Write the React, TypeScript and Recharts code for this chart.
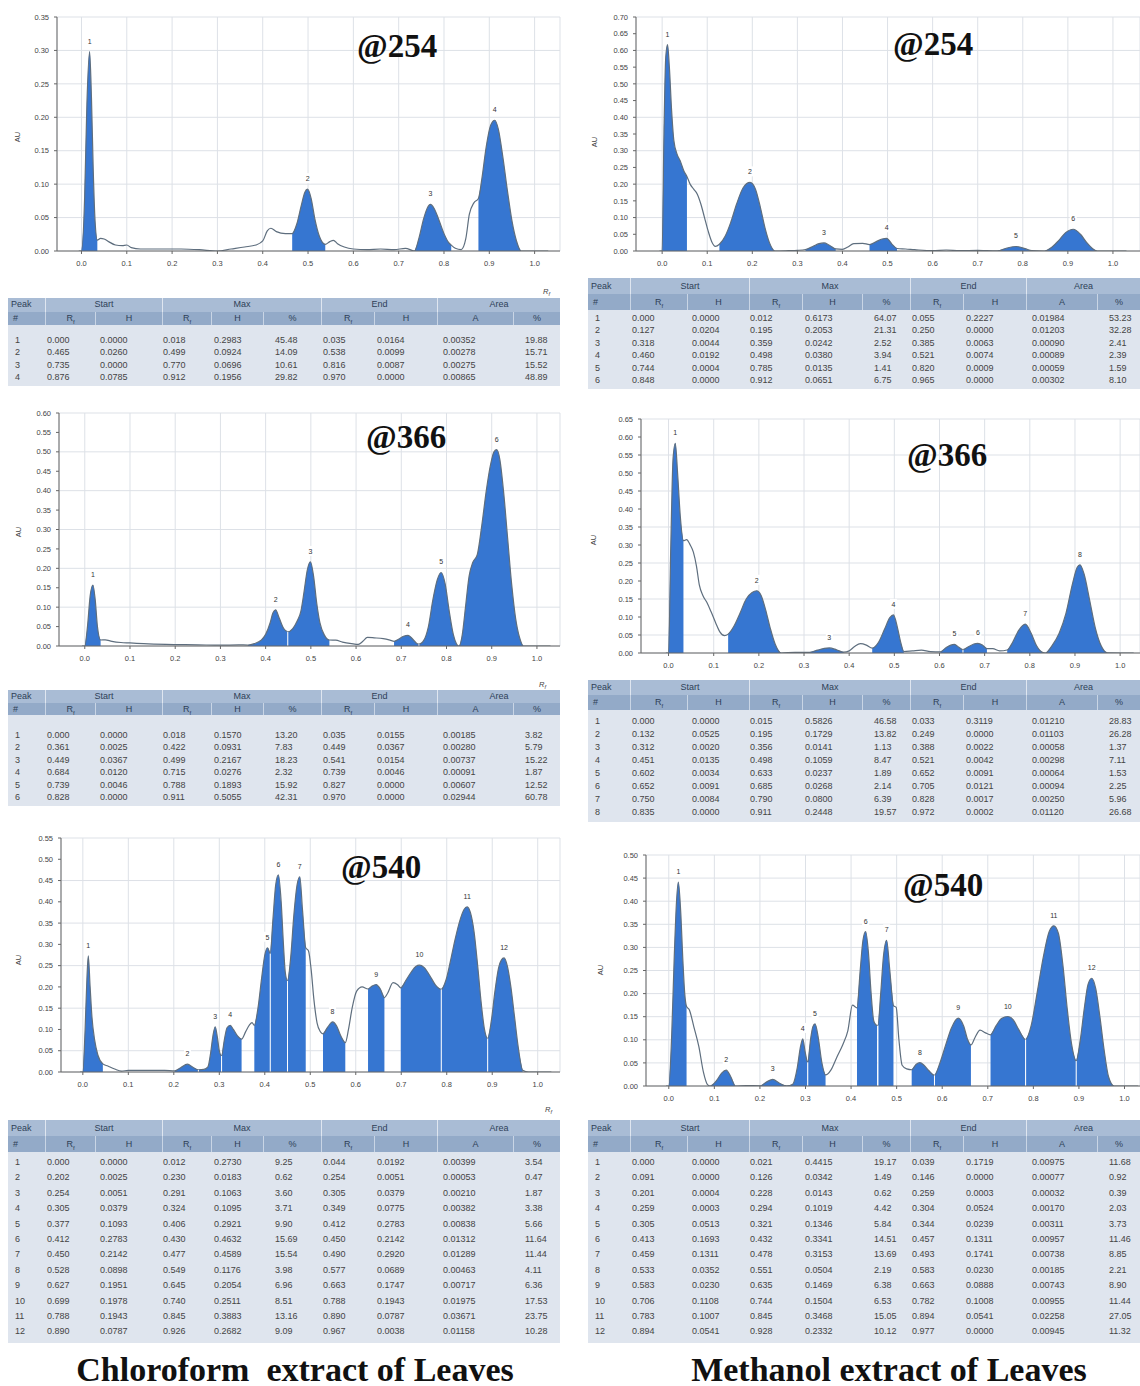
import React from "react";
import {
  ComposedChart,
  Line,
  Area,
  Scatter,
  XAxis,
  YAxis,
  CartesianGrid,
  ReferenceLine,
} from "recharts";

// Rf ticks shared by all densitograms
const rfTicks = [0, 0.1, 0.2, 0.3, 0.4, 0.5, 0.6, 0.7, 0.8, 0.9, 1.0];

// AU ticks of each panel
const auTicksC254 = [0, 0.05, 0.1, 0.15, 0.2, 0.25, 0.3, 0.35];
const auTicksC366 = [0, 0.05, 0.1, 0.15, 0.2, 0.25, 0.3, 0.35, 0.4, 0.45, 0.5, 0.55, 0.6];
const auTicksC540 = [0, 0.05, 0.1, 0.15, 0.2, 0.25, 0.3, 0.35, 0.4, 0.45, 0.5, 0.55];
const auTicksM254 = [0, 0.05, 0.1, 0.15, 0.2, 0.25, 0.3, 0.35, 0.4, 0.45, 0.5, 0.55, 0.6, 0.65, 0.7];
const auTicksM366 = [0, 0.05, 0.1, 0.15, 0.2, 0.25, 0.3, 0.35, 0.4, 0.45, 0.5, 0.55, 0.6, 0.65];
const auTicksM540 = [0, 0.05, 0.1, 0.15, 0.2, 0.25, 0.3, 0.35, 0.4, 0.45, 0.5];

// peak tables: #, start Rf, start H, max Rf, max H, max %, end Rf, end H, area A, area %
const peaksC254 = [
  ["1", "0.000", "0.0000", "0.018", "0.2983", "45.48", "0.035", "0.0164", "0.00352", "19.88"],
  ["2", "0.465", "0.0260", "0.499", "0.0924", "14.09", "0.538", "0.0099", "0.00278", "15.71"],
  ["3", "0.735", "0.0000", "0.770", "0.0696", "10.61", "0.816", "0.0087", "0.00275", "15.52"],
  ["4", "0.876", "0.0785", "0.912", "0.1956", "29.82", "0.970", "0.0000", "0.00865", "48.89"],
];
const peaksC366 = [
  ["1", "0.000", "0.0000", "0.018", "0.1570", "13.20", "0.035", "0.0155", "0.00185", "3.82"],
  ["2", "0.361", "0.0025", "0.422", "0.0931", "7.83", "0.449", "0.0367", "0.00280", "5.79"],
  ["3", "0.449", "0.0367", "0.499", "0.2167", "18.23", "0.541", "0.0154", "0.00737", "15.22"],
  ["4", "0.684", "0.0120", "0.715", "0.0276", "2.32", "0.739", "0.0046", "0.00091", "1.87"],
  ["5", "0.739", "0.0046", "0.788", "0.1893", "15.92", "0.827", "0.0000", "0.00607", "12.52"],
  ["6", "0.828", "0.0000", "0.911", "0.5055", "42.31", "0.970", "0.0000", "0.02944", "60.78"],
];
const peaksC540 = [
  ["1", "0.000", "0.0000", "0.012", "0.2730", "9.25", "0.044", "0.0192", "0.00399", "3.54"],
  ["2", "0.202", "0.0025", "0.230", "0.0183", "0.62", "0.254", "0.0051", "0.00053", "0.47"],
  ["3", "0.254", "0.0051", "0.291", "0.1063", "3.60", "0.305", "0.0379", "0.00210", "1.87"],
  ["4", "0.305", "0.0379", "0.324", "0.1095", "3.71", "0.349", "0.0775", "0.00382", "3.38"],
  ["5", "0.377", "0.1093", "0.406", "0.2921", "9.90", "0.412", "0.2783", "0.00838", "5.66"],
  ["6", "0.412", "0.2783", "0.430", "0.4632", "15.69", "0.450", "0.2142", "0.01312", "11.64"],
  ["7", "0.450", "0.2142", "0.477", "0.4589", "15.54", "0.490", "0.2920", "0.01289", "11.44"],
  ["8", "0.528", "0.0898", "0.549", "0.1176", "3.98", "0.577", "0.0689", "0.00463", "4.11"],
  ["9", "0.627", "0.1951", "0.645", "0.2054", "6.96", "0.663", "0.1747", "0.00717", "6.36"],
  ["10", "0.699", "0.1978", "0.740", "0.2511", "8.51", "0.788", "0.1943", "0.01975", "17.53"],
  ["11", "0.788", "0.1943", "0.845", "0.3883", "13.16", "0.890", "0.0787", "0.03671", "23.75"],
  ["12", "0.890", "0.0787", "0.926", "0.2682", "9.09", "0.967", "0.0038", "0.01158", "10.28"],
];
const peaksM254 = [
  ["1", "0.000", "0.0000", "0.012", "0.6173", "64.07", "0.055", "0.2227", "0.01984", "53.23"],
  ["2", "0.127", "0.0204", "0.195", "0.2053", "21.31", "0.250", "0.0000", "0.01203", "32.28"],
  ["3", "0.318", "0.0044", "0.359", "0.0242", "2.52", "0.385", "0.0063", "0.00090", "2.41"],
  ["4", "0.460", "0.0192", "0.498", "0.0380", "3.94", "0.521", "0.0074", "0.00089", "2.39"],
  ["5", "0.744", "0.0004", "0.785", "0.0135", "1.41", "0.820", "0.0009", "0.00059", "1.59"],
  ["6", "0.848", "0.0000", "0.912", "0.0651", "6.75", "0.965", "0.0000", "0.00302", "8.10"],
];
const peaksM366 = [
  ["1", "0.000", "0.0000", "0.015", "0.5826", "46.58", "0.033", "0.3119", "0.01210", "28.83"],
  ["2", "0.132", "0.0525", "0.195", "0.1729", "13.82", "0.249", "0.0000", "0.01103", "26.28"],
  ["3", "0.312", "0.0020", "0.356", "0.0141", "1.13", "0.388", "0.0022", "0.00058", "1.37"],
  ["4", "0.451", "0.0135", "0.498", "0.1059", "8.47", "0.521", "0.0042", "0.00298", "7.11"],
  ["5", "0.602", "0.0034", "0.633", "0.0237", "1.89", "0.652", "0.0091", "0.00064", "1.53"],
  ["6", "0.652", "0.0091", "0.685", "0.0268", "2.14", "0.705", "0.0121", "0.00094", "2.25"],
  ["7", "0.750", "0.0084", "0.790", "0.0800", "6.39", "0.828", "0.0017", "0.00250", "5.96"],
  ["8", "0.835", "0.0000", "0.911", "0.2448", "19.57", "0.972", "0.0002", "0.01120", "26.68"],
];
const peaksM540 = [
  ["1", "0.000", "0.0000", "0.021", "0.4415", "19.17", "0.039", "0.1719", "0.00975", "11.68"],
  ["2", "0.091", "0.0000", "0.126", "0.0342", "1.49", "0.146", "0.0000", "0.00077", "0.92"],
  ["3", "0.201", "0.0004", "0.228", "0.0143", "0.62", "0.259", "0.0003", "0.00032", "0.39"],
  ["4", "0.259", "0.0003", "0.294", "0.1019", "4.42", "0.304", "0.0524", "0.00170", "2.03"],
  ["5", "0.305", "0.0513", "0.321", "0.1346", "5.84", "0.344", "0.0239", "0.00311", "3.73"],
  ["6", "0.413", "0.1693", "0.432", "0.3341", "14.51", "0.457", "0.1311", "0.00957", "11.46"],
  ["7", "0.459", "0.1311", "0.478", "0.3153", "13.69", "0.493", "0.1741", "0.00738", "8.85"],
  ["8", "0.533", "0.0352", "0.551", "0.0504", "2.19", "0.583", "0.0230", "0.00185", "2.21"],
  ["9", "0.583", "0.0230", "0.635", "0.1469", "6.38", "0.663", "0.0888", "0.00743", "8.90"],
  ["10", "0.706", "0.1108", "0.744", "0.1504", "6.53", "0.782", "0.1008", "0.00955", "11.44"],
  ["11", "0.783", "0.1007", "0.845", "0.3468", "15.05", "0.894", "0.0541", "0.02258", "27.05"],
  ["12", "0.894", "0.0541", "0.928", "0.2332", "10.12", "0.977", "0.0000", "0.00945", "11.32"],
];

// densitogram traces: [Rf, AU]
const curveC254 = [
  [-0.006, 0], [0.0, 0.0], [0.007, 0.08], [0.012, 0.22], [0.018, 0.2983], [0.022, 0.23], [0.026, 0.12],
  [0.03, 0.045], [0.035, 0.0164], [0.042, 0.019], [0.05, 0.018], [0.06, 0.014], [0.075, 0.009], [0.09, 0.008],
  [0.1, 0.009], [0.11, 0.005], [0.13, 0.003], [0.18, 0.003], [0.22, 0.003], [0.26, 0.002], [0.3, 0.0],
  [0.33, 0.003], [0.36, 0.006], [0.385, 0.009], [0.4, 0.015], [0.41, 0.03], [0.418, 0.034], [0.43, 0.029],
  [0.45, 0.026], [0.465, 0.026], [0.475, 0.04], [0.485, 0.068], [0.493, 0.088], [0.499, 0.0924], [0.507, 0.078],
  [0.515, 0.048], [0.525, 0.022], [0.538, 0.0099], [0.548, 0.014], [0.556, 0.016], [0.565, 0.011], [0.58, 0.006],
  [0.6, 0.003], [0.63, 0.002], [0.66, 0.003], [0.69, 0.002], [0.715, 0.004], [0.735, 0.0], [0.745, 0.02],
  [0.755, 0.048], [0.763, 0.064], [0.77, 0.0696], [0.778, 0.064], [0.788, 0.048], [0.8, 0.026], [0.81, 0.013],
  [0.816, 0.0087], [0.825, 0.004], [0.838, 0.002], [0.848, 0.018], [0.856, 0.055], [0.866, 0.072],
  [0.876, 0.0785], [0.884, 0.11], [0.893, 0.155], [0.903, 0.188], [0.912, 0.1956], [0.92, 0.182], [0.93, 0.14],
  [0.94, 0.09], [0.95, 0.045], [0.96, 0.015], [0.97, 0.0], [1.0, 0.0], [1.03, 0.0],
];
const curveC366 = [
  [-0.006, 0], [0.0, 0.0], [0.006, 0.05], [0.012, 0.13], [0.018, 0.157], [0.023, 0.12], [0.028, 0.05],
  [0.035, 0.0155], [0.045, 0.016], [0.06, 0.012], [0.08, 0.009], [0.1, 0.008], [0.13, 0.006], [0.18, 0.004],
  [0.25, 0.003], [0.3, 0.002], [0.34, 0.003], [0.361, 0.0025], [0.375, 0.006], [0.39, 0.015], [0.4, 0.03],
  [0.41, 0.06], [0.416, 0.085], [0.422, 0.0931], [0.43, 0.072], [0.44, 0.045], [0.449, 0.0367], [0.46, 0.045],
  [0.47, 0.065], [0.478, 0.09], [0.485, 0.14], [0.492, 0.195], [0.499, 0.2167], [0.506, 0.18], [0.513, 0.11],
  [0.52, 0.06], [0.53, 0.028], [0.541, 0.0154], [0.555, 0.015], [0.57, 0.01], [0.59, 0.006], [0.605, 0.004],
  [0.615, 0.012], [0.625, 0.022], [0.64, 0.021], [0.66, 0.019], [0.675, 0.015], [0.684, 0.012], [0.695, 0.018],
  [0.705, 0.025], [0.715, 0.0276], [0.725, 0.018], [0.733, 0.008], [0.739, 0.0046], [0.75, 0.015], [0.76, 0.05],
  [0.77, 0.12], [0.78, 0.172], [0.788, 0.1893], [0.797, 0.16], [0.806, 0.09], [0.815, 0.03], [0.822, 0.006],
  [0.827, 0.0], [0.828, 0.0], [0.835, 0.03], [0.842, 0.1], [0.85, 0.18], [0.858, 0.215], [0.868, 0.235],
  [0.878, 0.31], [0.888, 0.4], [0.898, 0.47], [0.905, 0.5], [0.911, 0.5055], [0.918, 0.48], [0.926, 0.4],
  [0.935, 0.28], [0.944, 0.16], [0.953, 0.07], [0.962, 0.02], [0.97, 0.0], [1.0, 0.0], [1.03, 0.0],
];
const curveC540 = [
  [-0.006, 0], [0.0, 0.0], [0.005, 0.1], [0.009, 0.22], [0.012, 0.273], [0.016, 0.2], [0.02, 0.13],
  [0.026, 0.075], [0.033, 0.04], [0.044, 0.0192], [0.055, 0.014], [0.07, 0.007], [0.085, 0.002], [0.1, 0.004],
  [0.12, 0.004], [0.15, 0.004], [0.18, 0.004], [0.202, 0.0025], [0.215, 0.01], [0.23, 0.0183], [0.242, 0.011],
  [0.254, 0.0051], [0.266, 0.006], [0.275, 0.012], [0.281, 0.045], [0.286, 0.085], [0.291, 0.1063], [0.296, 0.08],
  [0.3, 0.05], [0.305, 0.0379], [0.311, 0.075], [0.317, 0.104], [0.324, 0.1095], [0.331, 0.1], [0.34, 0.085],
  [0.349, 0.0775], [0.358, 0.095], [0.366, 0.11], [0.372, 0.116], [0.377, 0.1093], [0.385, 0.15], [0.393, 0.22],
  [0.4, 0.275], [0.406, 0.2921], [0.412, 0.2783], [0.418, 0.36], [0.424, 0.44], [0.43, 0.4632], [0.436, 0.4],
  [0.441, 0.3], [0.445, 0.235], [0.45, 0.2142], [0.457, 0.27], [0.464, 0.37], [0.471, 0.44], [0.477, 0.4589],
  [0.483, 0.38], [0.49, 0.292], [0.496, 0.285], [0.502, 0.24], [0.508, 0.17], [0.515, 0.115], [0.522, 0.095],
  [0.528, 0.0898], [0.538, 0.105], [0.549, 0.1176], [0.558, 0.108], [0.567, 0.085], [0.577, 0.0689],
  [0.584, 0.1], [0.592, 0.15], [0.602, 0.19], [0.614, 0.2], [0.627, 0.1951], [0.636, 0.202], [0.645, 0.2054],
  [0.654, 0.195], [0.663, 0.1747], [0.67, 0.185], [0.682, 0.21], [0.692, 0.205], [0.699, 0.1978], [0.71, 0.215],
  [0.722, 0.235], [0.732, 0.248], [0.74, 0.2511], [0.75, 0.246], [0.762, 0.228], [0.775, 0.205], [0.788, 0.1943],
  [0.798, 0.215], [0.808, 0.26], [0.818, 0.31], [0.83, 0.36], [0.838, 0.382], [0.845, 0.3883], [0.852, 0.375],
  [0.86, 0.33], [0.868, 0.25], [0.876, 0.16], [0.883, 0.1], [0.89, 0.0787], [0.898, 0.12], [0.906, 0.19],
  [0.914, 0.245], [0.92, 0.263], [0.926, 0.2682], [0.933, 0.25], [0.941, 0.2], [0.949, 0.13], [0.957, 0.06],
  [0.967, 0.0038], [0.98, 0.0], [1.03, 0.0],
];
const curveM254 = [
  [-0.006, 0], [0.0, 0.0], [0.004, 0.35], [0.008, 0.58], [0.012, 0.6173], [0.016, 0.55], [0.021, 0.42],
  [0.026, 0.33], [0.033, 0.29], [0.04, 0.27], [0.048, 0.24], [0.055, 0.2227], [0.062, 0.2], [0.07, 0.185],
  [0.078, 0.17], [0.086, 0.14], [0.094, 0.1], [0.102, 0.06], [0.11, 0.028], [0.118, 0.014], [0.127, 0.0204],
  [0.14, 0.045], [0.152, 0.085], [0.165, 0.14], [0.18, 0.19], [0.195, 0.2053], [0.207, 0.185], [0.218, 0.13],
  [0.228, 0.07], [0.238, 0.025], [0.25, 0.0], [0.28, 0.001], [0.3, 0.002], [0.318, 0.0044], [0.335, 0.014],
  [0.348, 0.022], [0.359, 0.0242], [0.37, 0.018], [0.385, 0.0063], [0.4, 0.005], [0.412, 0.012], [0.425, 0.022],
  [0.445, 0.023], [0.46, 0.0192], [0.475, 0.028], [0.488, 0.036], [0.498, 0.038], [0.51, 0.02], [0.521, 0.0074],
  [0.54, 0.006], [0.56, 0.004], [0.6, 0.001], [0.63, 0.003], [0.66, 0.001], [0.7, 0.002], [0.72, 0.001],
  [0.744, 0.0004], [0.765, 0.009], [0.785, 0.0135], [0.805, 0.007], [0.82, 0.0009], [0.848, 0.0], [0.865, 0.012],
  [0.88, 0.032], [0.895, 0.055], [0.912, 0.0651], [0.928, 0.05], [0.942, 0.025], [0.955, 0.007], [0.965, 0.0],
  [1.03, 0.0],
];
const curveM366 = [
  [-0.006, 0], [0.0, 0.0], [0.005, 0.3], [0.01, 0.54], [0.015, 0.5826], [0.02, 0.5], [0.026, 0.38],
  [0.033, 0.3119], [0.04, 0.315], [0.048, 0.3], [0.055, 0.28], [0.062, 0.24], [0.068, 0.19], [0.076, 0.16],
  [0.085, 0.14], [0.094, 0.115], [0.104, 0.085], [0.114, 0.058], [0.124, 0.048], [0.132, 0.0525], [0.145, 0.075],
  [0.158, 0.11], [0.172, 0.15], [0.185, 0.168], [0.195, 0.1729], [0.205, 0.16], [0.215, 0.12], [0.225, 0.07],
  [0.236, 0.025], [0.249, 0.0], [0.28, 0.002], [0.312, 0.002], [0.33, 0.008], [0.345, 0.013], [0.356, 0.0141],
  [0.372, 0.009], [0.388, 0.0022], [0.4, 0.006], [0.412, 0.018], [0.425, 0.026], [0.438, 0.022], [0.451, 0.0135],
  [0.465, 0.03], [0.478, 0.065], [0.49, 0.098], [0.498, 0.1059], [0.507, 0.07], [0.514, 0.03], [0.521, 0.0042],
  [0.54, 0.006], [0.56, 0.008], [0.58, 0.004], [0.602, 0.0034], [0.615, 0.015], [0.625, 0.022], [0.633, 0.0237],
  [0.643, 0.016], [0.652, 0.0091], [0.665, 0.018], [0.676, 0.025], [0.685, 0.0268], [0.695, 0.022],
  [0.705, 0.0121], [0.718, 0.012], [0.733, 0.006], [0.75, 0.0084], [0.762, 0.03], [0.775, 0.062], [0.79, 0.08],
  [0.803, 0.055], [0.815, 0.02], [0.828, 0.0017], [0.835, 0.0], [0.85, 0.022], [0.865, 0.055], [0.88, 0.11],
  [0.895, 0.195], [0.905, 0.238], [0.911, 0.2448], [0.92, 0.22], [0.932, 0.15], [0.945, 0.07], [0.958, 0.02],
  [0.972, 0.0002], [1.03, 0.0],
];
const curveM540 = [
  [-0.006, 0], [0.0, 0.0], [0.006, 0.1], [0.012, 0.28], [0.017, 0.4], [0.021, 0.4415], [0.026, 0.38],
  [0.031, 0.27], [0.035, 0.2], [0.039, 0.1719], [0.045, 0.165], [0.055, 0.128], [0.066, 0.085], [0.076, 0.03],
  [0.085, 0.003], [0.091, 0.0], [0.105, 0.012], [0.116, 0.028], [0.126, 0.0342], [0.136, 0.02], [0.146, 0.0],
  [0.17, 0.001], [0.201, 0.0004], [0.215, 0.009], [0.228, 0.0143], [0.243, 0.006], [0.259, 0.0003],
  [0.272, 0.004], [0.282, 0.04], [0.289, 0.085], [0.294, 0.1019], [0.299, 0.075], [0.304, 0.0524],
  [0.305, 0.0513], [0.311, 0.1], [0.316, 0.128], [0.321, 0.1346], [0.328, 0.105], [0.336, 0.05], [0.344, 0.0239],
  [0.356, 0.035], [0.369, 0.063], [0.382, 0.09], [0.393, 0.12], [0.403, 0.175], [0.413, 0.1693], [0.42, 0.25],
  [0.426, 0.315], [0.432, 0.3341], [0.438, 0.29], [0.444, 0.2], [0.45, 0.14], [0.457, 0.1311], [0.459, 0.1311],
  [0.465, 0.2], [0.471, 0.28], [0.478, 0.3153], [0.485, 0.25], [0.493, 0.1741], [0.499, 0.17], [0.505, 0.1],
  [0.512, 0.045], [0.522, 0.037], [0.533, 0.0352], [0.543, 0.047], [0.551, 0.0504], [0.56, 0.045],
  [0.571, 0.033], [0.583, 0.023], [0.595, 0.05], [0.608, 0.09], [0.62, 0.125], [0.635, 0.1469], [0.647, 0.13],
  [0.656, 0.1], [0.663, 0.0888], [0.672, 0.105], [0.683, 0.121], [0.695, 0.115], [0.706, 0.1108], [0.718, 0.13],
  [0.73, 0.146], [0.744, 0.1504], [0.756, 0.143], [0.768, 0.122], [0.782, 0.1008], [0.783, 0.1007], [0.795, 0.13],
  [0.808, 0.2], [0.822, 0.28], [0.835, 0.335], [0.845, 0.3468], [0.855, 0.33], [0.865, 0.26], [0.874, 0.17],
  [0.884, 0.09], [0.894, 0.0541], [0.903, 0.1], [0.912, 0.17], [0.92, 0.22], [0.928, 0.2332], [0.937, 0.21],
  [0.946, 0.15], [0.955, 0.08], [0.965, 0.02], [0.977, 0.0], [1.03, 0.0],
];

const BLUE = "#3676d1";
const TRACE = "#5e6e7e";
const SANS = "'Liberation Sans', Arial, sans-serif";
const SERIF = "'Liberation Serif', 'Times New Roman', serif";

function PeakMark(props: any) {
  const { cx, cy, payload } = props;
  if (cx == null || cy == null) return null;
  const w = payload.n.length > 1 ? 11 : 7;
  return (
    <g>
      <rect x={cx - w / 2} y={cy - 16} width={w} height={10} fill="#fff" />
      <text x={cx} y={cy - 8} textAnchor="middle" fontSize={7} fill="#333" fontFamily={SANS}>
        {payload.n}
      </text>
    </g>
  );
}

function Densitogram({ curve, peaks, ticks, g }: any) {
  const data = curve.map(([rf, au]: number[]) => ({ rf, au }));
  const marks = peaks.map((p: string[]) => ({ rf: Number(p[3]), au: Number(p[4]), n: p[0] }));
  const ranges = peaks.map((p: string[]) => [Number(p[1]), Number(p[6])]);
  const joins = peaks
    .filter((p: string[], i: number) => i > 0 && Math.abs(Number(p[1]) - Number(peaks[i - 1][6])) < 0.003)
    .map((p: string[]) => [Number(p[1]), Number(p[2])]);
  const axisH = 20;
  return (
    <div style={{ position: "absolute", left: g.left, top: g.top }}>
      <ComposedChart
        width={g.width}
        height={g.height}
        data={data}
        margin={{
          top: g.plotTop - g.top,
          right: g.left + g.width - g.plotRight,
          bottom: g.top + g.height - g.plotBottom - axisH,
          left: 0,
        }}
      >
        <CartesianGrid stroke="#dde1e7" />
        <XAxis
          type="number"
          dataKey="rf"
          domain={g.domain}
          ticks={rfTicks}
          allowDataOverflow
          height={axisH}
          tickFormatter={(v: number) => v.toFixed(1)}
          tick={{ fontSize: 7.5, fill: "#444", fontFamily: SANS }}
          tickSize={3}
          tickMargin={7}
          stroke="#666"
        />
        <YAxis
          type="number"
          domain={[0, ticks[ticks.length - 1]]}
          ticks={ticks}
          allowDataOverflow
          width={g.plotLeft - g.left}
          tickFormatter={(v: number) => v.toFixed(2)}
          tick={{ fontSize: 7.5, fill: "#444", fontFamily: SANS }}
          tickSize={3}
          tickMargin={5}
          stroke="#666"
        />
        {ranges.map(([s, e]: number[], i: number) => (
          <Area
            key={`pk-${i}`}
            name={`pk-${i}`}
            dataKey={(d: any) => (d.rf >= s && d.rf <= e ? d.au : null)}
            type="monotone"
            stroke="none"
            fill={BLUE}
            fillOpacity={1}
            dot={false}
            activeDot={false}
            isAnimationActive={false}
          />
        ))}
        <Line
          dataKey="au"
          type="monotone"
          stroke={TRACE}
          strokeWidth={1.2}
          dot={false}
          activeDot={false}
          isAnimationActive={false}
        />
        {joins.map(([x, h]: number[], i: number) => (
          <ReferenceLine
            key={`j-${i}`}
            segment={[
              { x, y: 0 },
              { x, y: h },
            ]}
            stroke="#ffffff"
            strokeWidth={1}
          />
        ))}
        <Scatter data={marks} dataKey="au" shape={PeakMark} isAnimationActive={false} />
      </ComposedChart>
    </div>
  );
}

const tableHeads = [
  [0, 1, "Peak"],
  [1, 3, "Start"],
  [3, 6, "Max"],
  [6, 8, "End"],
  [8, 10, "Area"],
];
const subHeads = ["#", "Rf", "H", "Rf", "H", "%", "Rf", "H", "A", "%"];
const cellPad = [7, 2, 5, 1, 3, 12, 2, 3, 6, 12];

function PeakTable({ rows, t }: any) {
  const e = t.edges;
  const x0 = e[0];
  const W = e[10] - x0;
  const bodyTop = 2 * t.headH;
  const bodyH = t.pad + rows.length * t.rowH + 3;
  const cell = (i: number, j: number) => ({
    position: "absolute" as const,
    left: e[i] - x0,
    width: e[j] - e[i],
  });
  return (
    <div
      style={{
        position: "absolute",
        left: x0,
        top: t.top,
        width: W,
        height: bodyTop + bodyH,
        fontFamily: SANS,
        fontSize: 9,
        color: "#444",
      }}
    >
      <div style={{ position: "absolute", left: 0, top: 0, width: W, height: t.headH, background: "#a9bcd5" }} />
      <div style={{ position: "absolute", left: 0, top: t.headH, width: W, height: t.headH, background: "#93aac8" }} />
      <div style={{ position: "absolute", left: 0, top: bodyTop, width: W, height: bodyH, background: "#dfe5ee" }} />
      {tableHeads.map(([i, j, label]: any) => (
        <div
          key={label}
          style={{
            ...cell(i, j),
            top: 0,
            height: t.headH,
            lineHeight: `${t.headH}px`,
            textAlign: i === 0 ? "left" : "center",
            paddingLeft: i === 0 ? 3 : 0,
            boxSizing: "border-box",
            borderLeft: i === 0 ? "none" : "1px solid #dfe6f0",
            color: "#2e3f57",
          }}
        >
          {label}
        </div>
      ))}
      {subHeads.map((h, i) => (
        <div
          key={`s${i}`}
          style={{
            ...cell(i, i + 1),
            top: t.headH,
            height: t.headH,
            lineHeight: `${t.headH}px`,
            textAlign: i === 0 ? "left" : "center",
            paddingLeft: i === 0 ? 5 : 0,
            boxSizing: "border-box",
            borderLeft: i === 0 ? "none" : "1px solid #c9d5e5",
            color: "#2e3f57",
          }}
        >
          {h === "Rf" ? (
            <span>
              R<sub style={{ fontSize: 6 }}>f</sub>
            </span>
          ) : (
            h
          )}
        </div>
      ))}
      {rows.map((r: string[], k: number) =>
        r.map((v, i) => (
          <div
            key={`${k}-${i}`}
            style={{
              ...cell(i, i + 1),
              top: bodyTop + t.pad + k * t.rowH,
              height: t.rowH,
              lineHeight: `${t.rowH}px`,
              paddingLeft: cellPad[i],
              boxSizing: "border-box",
              whiteSpace: "nowrap",
            }}
          >
            {v}
          </div>
        ))
      )}
    </div>
  );
}

const leftEdges = [8, 45, 95, 162, 211, 263, 321, 374, 437, 513, 560];
const rightEdges = [588, 630, 687, 749, 802, 862, 910, 963, 1026, 1097, 1140];

const panels = [
  { curve: curveC254, peaks: peaksC254, ticks: auTicksC254, title: "@254", tx: 357, ty: 57, au: [20, 137], rf: [543, 294],
    g: { left: 0, top: 10, width: 562, height: 290, plotLeft: 57, plotTop: 17, plotRight: 560, plotBottom: 251, domain: [-0.054, 1.056] },
    t: { edges: leftEdges, top: 298, headH: 13.5, pad: 9, rowH: 12.3 } },
  { curve: curveC366, peaks: peaksC366, ticks: auTicksC366, title: "@366", tx: 366, ty: 448, au: [21, 532], rf: [539, 687],
    g: { left: 0, top: 405, width: 562, height: 285, plotLeft: 59, plotTop: 413, plotRight: 560, plotBottom: 646, domain: [-0.057, 1.051] },
    t: { edges: leftEdges, top: 690, headH: 12.5, pad: 14, rowH: 12.4 } },
  { curve: curveC540, peaks: peaksC540, ticks: auTicksC540, title: "@540", tx: 341, ty: 878, au: [21, 960], rf: [545, 1112],
    g: { left: 0, top: 826, width: 562, height: 294, plotLeft: 61, plotTop: 838, plotRight: 560, plotBottom: 1072, domain: [-0.048, 1.049] },
    t: { edges: leftEdges, top: 1120, headH: 16, pad: 3, rowH: 15.4 } },
  { curve: curveM254, peaks: peaksM254, ticks: auTicksM254, title: "@254", tx: 893, ty: 55, au: [597, 142], rf: null,
    g: { left: 575, top: 10, width: 565, height: 268, plotLeft: 636, plotTop: 17, plotRight: 1140, plotBottom: 251, domain: [-0.058, 1.06] },
    t: { edges: rightEdges, top: 278, headH: 16, pad: 2, rowH: 12.4 } },
  { curve: curveM366, peaks: peaksM366, ticks: auTicksM366, title: "@366", tx: 907, ty: 466, au: [596, 540], rf: null,
    g: { left: 575, top: 408, width: 565, height: 272, plotLeft: 641, plotTop: 419, plotRight: 1140, plotBottom: 653, domain: [-0.061, 1.044] },
    t: { edges: rightEdges, top: 680, headH: 15, pad: 5, rowH: 13 } },
  { curve: curveM540, peaks: peaksM540, ticks: auTicksM540, title: "@540", tx: 903, ty: 896, au: [603, 970], rf: null,
    g: { left: 575, top: 842, width: 565, height: 278, plotLeft: 646, plotTop: 855, plotRight: 1140, plotBottom: 1086, domain: [-0.05, 1.034] },
    t: { edges: rightEdges, top: 1120, headH: 16, pad: 3, rowH: 15.4 } },
];

export default function App() {
  return (
    <div style={{ position: "absolute", left: 0, top: 0, width: 1140, height: 1386, background: "#fff", overflow: "hidden" }}>
      {panels.map((p, i) => (
        <React.Fragment key={i}>
          <Densitogram curve={p.curve} peaks={p.peaks} ticks={p.ticks} g={p.g} />
          <PeakTable rows={p.peaks} t={p.t} />
        </React.Fragment>
      ))}
      <svg width={1140} height={1386} style={{ position: "absolute", left: 0, top: 0, pointerEvents: "none" }}>
        {panels.map((p, i) => (
          <g key={i}>
            <text x={p.tx} y={p.ty} fontSize={33} fontWeight="bold" fontFamily={SERIF} fill="#111">
              {p.title}
            </text>
            <text
              x={p.au[0]}
              y={p.au[1]}
              fontSize={7.5}
              fill="#444"
              fontFamily={SANS}
              textAnchor="middle"
              transform={`rotate(-90 ${p.au[0]} ${p.au[1]})`}
            >
              AU
            </text>
            {p.rf && (
              <text x={p.rf[0]} y={p.rf[1]} fontSize={7.5} fill="#444" fontFamily={SANS} fontStyle="italic">
                R<tspan fontSize={5.5} dy={1.5}>f</tspan>
              </text>
            )}
          </g>
        ))}
        <text x={295} y={1381} fontSize={34} fontWeight="bold" fontFamily={SERIF} fill="#111" textAnchor="middle" xmlSpace="preserve">
          Chloroform  extract of Leaves
        </text>
        <text x={889} y={1381} fontSize={34} fontWeight="bold" fontFamily={SERIF} fill="#111" textAnchor="middle">
          Methanol extract of Leaves
        </text>
      </svg>
    </div>
  );
}
